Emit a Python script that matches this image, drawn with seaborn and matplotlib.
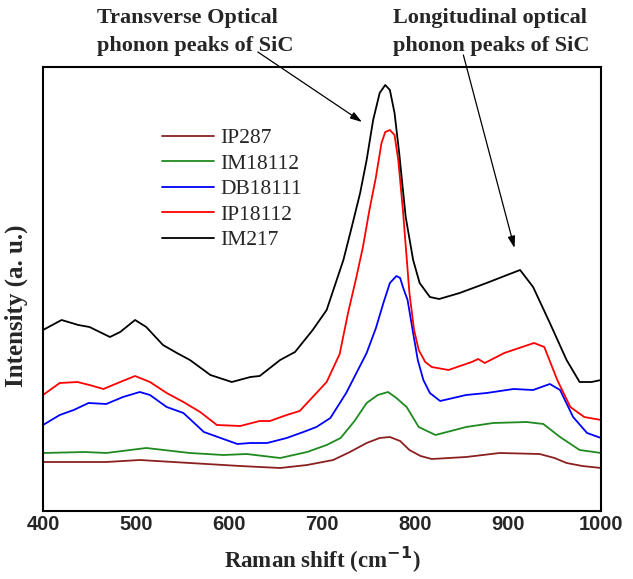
import numpy as np
import pandas as pd
import matplotlib
matplotlib.use("Agg")
import matplotlib.pyplot as plt
import seaborn as sns

# ---- data (arbitrary intensity units) ----
ip287_x = [400, 468, 504, 558, 612, 655, 684, 712, 730, 748, 762, 773, 784, 794, 806, 818, 855, 891, 934, 950, 963, 980, 1000]
ip287_y = [49, 49, 51, 48, 45, 43, 46, 51, 59, 68, 73, 74, 70, 61, 55, 52, 54, 58, 57, 53, 48, 45, 43]

im18112_x = [400, 445, 468, 511, 558, 594, 619, 655, 684, 705, 720, 735, 748, 760, 771, 780, 791, 804, 822, 855, 884,
             920, 938, 956, 977, 1000]
im18112_y = [58, 59, 58, 63, 58, 56, 57, 53, 59, 66, 73, 90, 108, 116, 119, 113, 104, 84, 76, 84, 88,
             89, 87, 74, 61, 58]

db18111_x = [400, 418, 433, 449, 468, 486, 504, 515, 533, 551, 573, 591, 609, 623, 641, 662, 680, 694, 709, 726,
             748, 758, 766, 773, 780, 784, 787, 792, 798, 803, 809, 816, 827, 855, 877, 906, 927, 945, 956, 970,
             985, 1000]
db18111_y = [86, 96, 101, 108, 107, 114, 119, 116, 104, 98, 79, 73, 67, 68, 68, 73, 79, 84, 93, 118,
             158, 183, 208, 228, 235, 233, 224, 211, 178, 151, 131, 118, 110, 116, 118, 122, 121, 127, 121, 94,
             78, 73]

ip18112_x = [400, 418, 437, 450, 465, 483, 499, 515, 533, 551, 569, 587, 612, 633, 644, 662, 676, 690, 705, 719,
             728, 737, 744, 751, 758, 764, 768, 773, 778, 782, 787, 794, 799, 804, 811, 818, 836, 861, 868, 875,
             896, 928, 939, 953, 967, 982, 1000]
ip18112_y = [116, 128, 129, 126, 122, 129, 135, 129, 118, 109, 99, 86, 85, 90, 90, 96, 100, 114, 129, 157,
             198, 234, 264, 301, 334, 368, 379, 381, 376, 351, 301, 218, 181, 161, 149, 144, 141, 149, 152, 148,
             158, 168, 164, 131, 104, 94, 91]

im217_x = [400, 420, 438, 450, 472, 483, 499, 511, 529, 544, 558, 580, 603, 623, 633, 655, 671, 690, 705, 723,
           732, 741, 748, 755, 762, 768, 773, 778, 783, 790, 798, 805, 816, 826, 848, 877, 899, 913, 927, 945,
           963, 977, 990, 1000]
im217_y = [181, 191, 186, 184, 174, 179, 191, 184, 166, 158, 151, 136, 129, 134, 135, 151, 159, 181, 201, 251,
           284, 318, 351, 391, 418, 426, 421, 398, 358, 294, 251, 228, 214, 212, 218, 228, 236, 241, 224, 188,
           151, 129, 129, 131]

series_names = ["IP287", "IM18112", "DB18111", "IP18112", "IM217"]
series_colors = ["#8b2020", "#1f8a1f", "#0000ff", "#ff0000", "#000000"]
x_ticks = [400, 500, 600, 700, 800, 900, 1000]

frames = []
for name, xs, ys in zip(series_names,
                        [ip287_x, im18112_x, db18111_x, ip18112_x, im217_x],
                        [ip287_y, im18112_y, db18111_y, ip18112_y, im217_y]):
    frames.append(pd.DataFrame({"shift": xs, "intensity": ys, "sample": name}))
df = pd.concat(frames, ignore_index=True)

sns.set_style("white")
fig = plt.figure(figsize=(6.33, 5.79), dpi=100)
ax = fig.add_axes([43 / 633, 68 / 579, 558 / 633, 444 / 579])

sns.lineplot(data=df, x="shift", y="intensity", hue="sample", hue_order=series_names,
             palette=dict(zip(series_names, series_colors)), linewidth=1.3,
             estimator=None, sort=True, ax=ax)
for ln in ax.get_lines():
    ln.set_solid_joinstyle("round")

ax.set_xlim(400, 1000)
ax.set_ylim(0, 444)
ax.set_xticks(x_ticks)
ax.set_xticklabels([str(t) for t in x_ticks], fontfamily="Liberation Sans",
                   fontweight="bold", fontsize=14.5)
ax.set_yticks([])
ax.tick_params(axis="x", length=0, pad=3)
for s in ax.spines.values():
    s.set_linewidth(1.5)
    s.set_color("black")

ax.set_xlabel("Raman shift (cm$^{\\mathbf{-1}}$)", fontfamily="Liberation Serif",
              fontweight="bold", fontsize=16.5, labelpad=8)
ax.set_ylabel("Intensity (a. u.)", fontfamily="Liberation Serif",
              fontweight="bold", fontsize=18, labelpad=2)
ax.yaxis.set_label_coords(-0.027, 0.462)

leg = ax.legend(loc="upper left", bbox_to_anchor=(0.213, 0.862), frameon=False,
                prop={"family": "Liberation Serif", "size": 15.5},
                handlelength=2.4, handletextpad=0.33, labelspacing=0.25,
                borderpad=0, borderaxespad=0)
for line in leg.get_lines():
    line.set_linewidth(1.3)

# annotations
ann_font = {"family": "Liberation Serif", "weight": "bold", "size": 16}
for txt_y, t1, t2 in [(18, "Transverse Optical", "Longitudinal optical"),
                      (46, "phonon peaks of SiC", "phonon peaks of SiC")]:
    fig.text(97 / 633, 1 - txt_y / 579, t1, ha="left", va="center", **ann_font)
    fig.text(393 / 633, 1 - txt_y / 579, t2, ha="left", va="center", **ann_font)

arrow_kw = dict(arrowstyle="-|>,head_length=0.7,head_width=0.22", color="black", lw=0.9,
                shrinkA=0, shrinkB=0)
ax.annotate("", xy=(743, 389), xytext=(631, 459), xycoords="data",
            arrowprops=arrow_kw, annotation_clip=False)
ax.annotate("", xy=(907, 263), xytext=(852, 456), xycoords="data",
            arrowprops=arrow_kw, annotation_clip=False)

fig.savefig("out.png", dpi=100)
